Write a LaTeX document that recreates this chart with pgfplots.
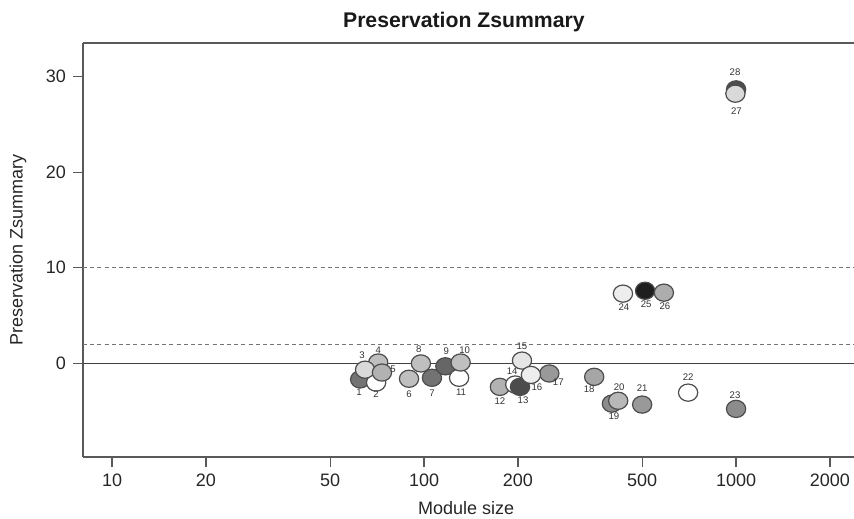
\documentclass[border=0pt]{standalone}
\usepackage{fontspec}
\setmainfont{Liberation Sans}
\usepackage{pgfplots}
\pgfplotsset{compat=1.18}

% one module: size, zsummary, lightness (%), label shift x, y (pt), label
\newcommand{\module}[6]{%
  \addplot[only marks, mark=*, mark size=4.3pt,
    mark options={xscale=1.12, line width=0.6pt, draw=black!70, fill=white!#3!black},
    nodes near coords={#6},
    every node near coord/.append style={anchor=center, inner sep=0pt,
      xshift=#4pt, yshift=#5pt,
      font=\fontsize{4.8}{5}\selectfont, text=black!80}]
    coordinates {(#1,#2)};}

\begin{document}
\begin{tikzpicture}
\begin{axis}[
  scale only axis,
  width=385.5pt, height=207pt,
  xmode=log,
  xmin=8.07, xmax=2388,
  ymin=-9.78, ymax=33.5,
  clip=false,
  axis lines=left,
  axis line style={-, draw=black!65, line width=0.6pt},
  tick style={draw=black!65, line width=0.6pt},
  tick align=outside,
  major tick length=5pt,
  xminorticks=false,
  xtick={10,20,50,100,200,500,1000,2000},
  xticklabels={10,20,50,100,200,500,1000,2000},
  ytick={0,10,20,30},
  ticklabel style={font=\fontsize{9}{10}\selectfont, text=black!85},
  /pgf/number format/assume math mode=true,
  xlabel={Module size},
  ylabel={Preservation Zsummary},
  label style={font=\fontsize{9}{10}\selectfont, text=black!85},
  xlabel style={at={(axis description cs:0.497,0)}, anchor=center, yshift=-25.5pt},
  ylabel style={at={(axis description cs:-0.0843,0.5)}, anchor=center},
  title={Preservation Zsummary},
  title style={at={(axis description cs:0.494,1)}, anchor=center, yshift=4.5pt,
    font=\bfseries\fontsize{10.6}{12}\selectfont, text=black!90},
]
\addplot[black!55, dash pattern=on 2pt off 1.6pt, line width=0.5pt]
  coordinates {(8.07,10) (2388,10)};
\addplot[black!55, dash pattern=on 2pt off 1.6pt, line width=0.5pt]
  coordinates {(8.07,2) (2388,2)};
\addplot[black!75, line width=0.6pt]
  coordinates {(8.07,0) (2388,0)};

\module{62.4}{-1.67}{45}{-0.5}{-6.5}{1}
\module{71.3}{0.10}{75}{0}{6}{4}
\module{70.2}{-2.00}{100}{0}{-6}{2}
\module{64.7}{-0.65}{85}{-1.5}{7}{3}
\module{73.3}{-0.95}{70}{5.5}{1.5}{5}
\module{89.5}{-1.60}{75}{0}{-7.5}{6}
\module{106}{-1.50}{45}{0}{-7.5}{7}
\module{97.7}{0.00}{75}{-1}{7}{8}
\module{117}{-0.30}{40}{0.5}{7.5}{9}
\module{129.5}{-1.50}{100}{1}{-7}{11}
\module{131}{0.10}{75}{2}{6}{10}
\module{175}{-2.45}{70}{0}{-7}{12}
\module{196}{-2.20}{100}{-1.5}{6.5}{14}
\module{203}{-2.45}{30}{1.5}{-6.5}{13}
\module{206}{0.30}{90}{0}{7}{15}
\module{252}{-1.05}{60}{4.5}{-4.5}{17}
\module{220}{-1.20}{93}{3}{-6}{16}
\module{351}{-1.40}{65}{-2.5}{-6}{18}
\module{400}{-4.20}{55}{1}{-6.5}{19}
\module{419}{-3.90}{72}{0.5}{7}{20}
\module{500}{-4.30}{60}{0}{8}{21}
\module{702}{-3.05}{100}{0}{7.5}{22}
\module{1000}{-4.75}{55}{-0.5}{7}{23}
\module{434}{7.30}{93}{0.5}{-7}{24}
\module{511}{7.60}{12}{0.5}{-6.5}{25}
\module{587}{7.40}{68}{0.5}{-7}{26}
\module{1000}{28.65}{30}{-0.5}{8.5}{28}
\module{995}{28.20}{85}{0.5}{-8.5}{27}

\draw[black!65, line width=0.8pt] (rel axis cs:0,1) -- (rel axis cs:1,1);
\end{axis}
\pgfresetboundingbox
\useasboundingbox (-41.5pt,-30.5pt) rectangle (385.5pt,228.5pt);
\end{tikzpicture}
\end{document}
